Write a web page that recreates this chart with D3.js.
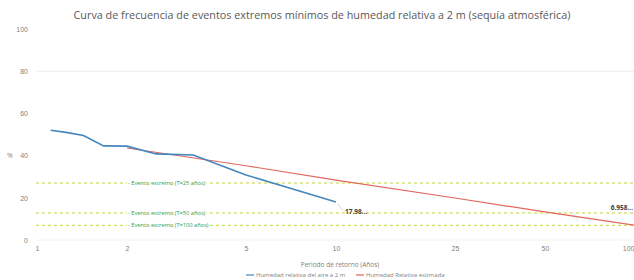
<!DOCTYPE html>
<html>
<head>
<meta charset="utf-8">
<script src="https://cdn.jsdelivr.net/npm/d3@7"></script>
<style>
	body { margin: 0; background: #fff; }
	svg { font-family: "Open Sans", "Liberation Sans", sans-serif; }
</style>
</head>
<body>
<svg id="chart" width="634" height="280"></svg>
<script>
// observed return periods (years) and relative humidity (%)
const obsT = [1.11, 1.25, 1.43, 1.67, 2, 2.5, 3.33, 5, 10];
const obsHR = [52.0, 51.0, 49.5, 44.6, 44.5, 40.8, 40.3, 30.8, 17.98];

// estimated curve
const estT = [2, 5, 10, 25, 50, 100];
const estHR = [43.6, 35.2, 28.4, 19.9, 13.3, 6.958];

// extreme event thresholds
const thrLabels = [
	"Evento extremo (T=25 años)",
	"Evento extremo (T=50 años)",
	"Evento extremo (T=100 años)",
];
const thrValues = [27.0, 12.8, 6.958];

const xTicks = [1, 2, 5, 10, 25, 50, 100];
const yTicks = [0, 20, 40, 60, 80, 100];

const svg = d3.select("svg#chart");

const x = d3.scaleLog().domain([1, 100]).range([37, 635]);
const y = d3.scaleLinear().domain([0, 100]).range([240, 29]);

// title
svg
	.append("text")
	.attr("x", 322)
	.attr("y", 19)
	.attr("text-anchor", "middle")
	.attr("font-size", "10.8px")
	.style("fill", "#595959")
	.text(
		"Curva de frecuencia de eventos extremos mínimos de humedad relativa a 2 m (sequía atmosférica)"
	);

// gridline at 80 and baseline
svg
	.append("line")
	.attr("x1", 36)
	.attr("x2", 634)
	.attr("y1", y(80))
	.attr("y2", y(80))
	.attr("stroke", "#ececec")
	.attr("stroke-width", 1);

svg
	.append("line")
	.attr("x1", 36)
	.attr("x2", 634)
	.attr("y1", y(0))
	.attr("y2", y(0))
	.attr("stroke", "#f2f2f2")
	.attr("stroke-width", 1);

// y axis
const leftAxis = d3.axisLeft(y).tickValues(yTicks).tickSize(0).tickPadding(0);
const gy = svg
	.append("g")
	.attr("transform", "translate(28,0)")
	.call(leftAxis);
gy.select(".domain").remove();
gy.selectAll("text")
	.attr("font-size", "7px")
	.style("fill", "#7f7f7f");

svg
	.append("text")
	.attr("x", 10)
	.attr("y", 158)
	.attr("text-anchor", "middle")
	.attr("font-size", "7px")
	.style("fill", "#7f7f7f")
	.text("%");

// x axis
const bottomAxis = d3
	.axisBottom(x)
	.tickValues(xTicks)
	.tickFormat(d3.format("d"))
	.tickSize(0)
	.tickPadding(0);
const gx = svg
	.append("g")
	.attr("transform", "translate(0,246)")
	.call(bottomAxis);
gx.select(".domain").remove();
gx.selectAll("text")
	.attr("font-size", "7px")
	.style("fill", "#7f7f7f");
// keep the last label inside the picture
gx.selectAll(".tick")
	.filter((d) => d === xTicks[xTicks.length - 1])
	.select("text")
	.attr("text-anchor", "end")
	.attr("dx", -1);

svg
	.append("text")
	.attr("x", 340)
	.attr("y", 267)
	.attr("text-anchor", "middle")
	.attr("font-size", "6.5px")
	.style("fill", "#7f7f7f")
	.text("Periodo de retorno (Años)");

// threshold lines
const thr = svg.append("g");
thrValues.forEach((v, i) => {
	thr
		.append("line")
		.attr("x1", 36)
		.attr("x2", 634)
		.attr("y1", y(v))
		.attr("y2", y(v))
		.attr("stroke", "#c6d33a")
		.attr("stroke-width", 1)
		.style("stroke-dasharray", "3, 3");
	const t = thr
		.append("text")
		.attr("x", 128)
		.attr("y", y(v) + 2)
		.attr("font-size", "5.7px")
		.style("fill", "#2e9e4a")
		.text("- " + thrLabels[i]);
	const bb = t.node().getBBox();
	thr
		.insert("rect", "text:last-of-type")
		.attr("x", bb.x - 1)
		.attr("y", bb.y)
		.attr("width", bb.width + 2)
		.attr("height", bb.height)
		.style("fill", "white");
});

const line = d3
	.line()
	.x((d) => x(d[0]))
	.y((d) => y(d[1]));

// estimated curve
svg
	.append("path")
	.datum(d3.zip(estT, estHR))
	.attr("fill", "none")
	.attr("stroke", "#e0665e")
	.attr("stroke-width", 1.2)
	.attr("d", line);

// observed curve
svg
	.append("path")
	.datum(d3.zip(obsT, obsHR))
	.attr("fill", "none")
	.attr("stroke", "#4586be")
	.attr("stroke-width", 1.6)
	.attr("d", line);

// data labels
const lastObs = obsT.length - 1;
svg
	.append("line")
	.attr("x1", x(obsT[lastObs]) + 2)
	.attr("y1", y(obsHR[lastObs]) + 2)
	.attr("x2", x(obsT[lastObs]) + 7)
	.attr("y2", y(obsHR[lastObs]) + 9)
	.attr("stroke", "#bfbfbf")
	.attr("stroke-width", 0.6);
svg
	.append("text")
	.attr("x", x(obsT[lastObs]) + 9)
	.attr("y", y(obsHR[lastObs]) + 12)
	.attr("font-size", "6.5px")
	.attr("font-weight", "bold")
	.style("fill", "#404040")
	.text(obsHR[lastObs].toFixed(2) + "...");

const lastEst = estT.length - 1;
svg
	.append("text")
	.attr("x", x(estT[lastEst]) - 2)
	.attr("y", y(estHR[lastEst]) - 15)
	.attr("text-anchor", "end")
	.attr("font-size", "6.5px")
	.attr("font-weight", "bold")
	.style("fill", "#404040")
	.text(estHR[lastEst].toFixed(3) + "...");

// legend
const legendItems = ["Humedad relativa del aire a 2 m", "Humedad Relativa estimada"];
const legendColors = ["#4586be", "#e0665e"];
const legendX = [246, 356];
legendItems.forEach((name, i) => {
	svg
		.append("line")
		.attr("x1", legendX[i])
		.attr("x2", legendX[i] + 8)
		.attr("y1", 275)
		.attr("y2", 275)
		.attr("stroke", legendColors[i])
		.attr("stroke-width", 1.2);
	svg
		.append("text")
		.attr("x", legendX[i] + 10)
		.attr("y", 277)
		.attr("font-size", "6px")
		.style("fill", "#7f7f7f")
		.text(name);
});
</script>
</body>
</html>
